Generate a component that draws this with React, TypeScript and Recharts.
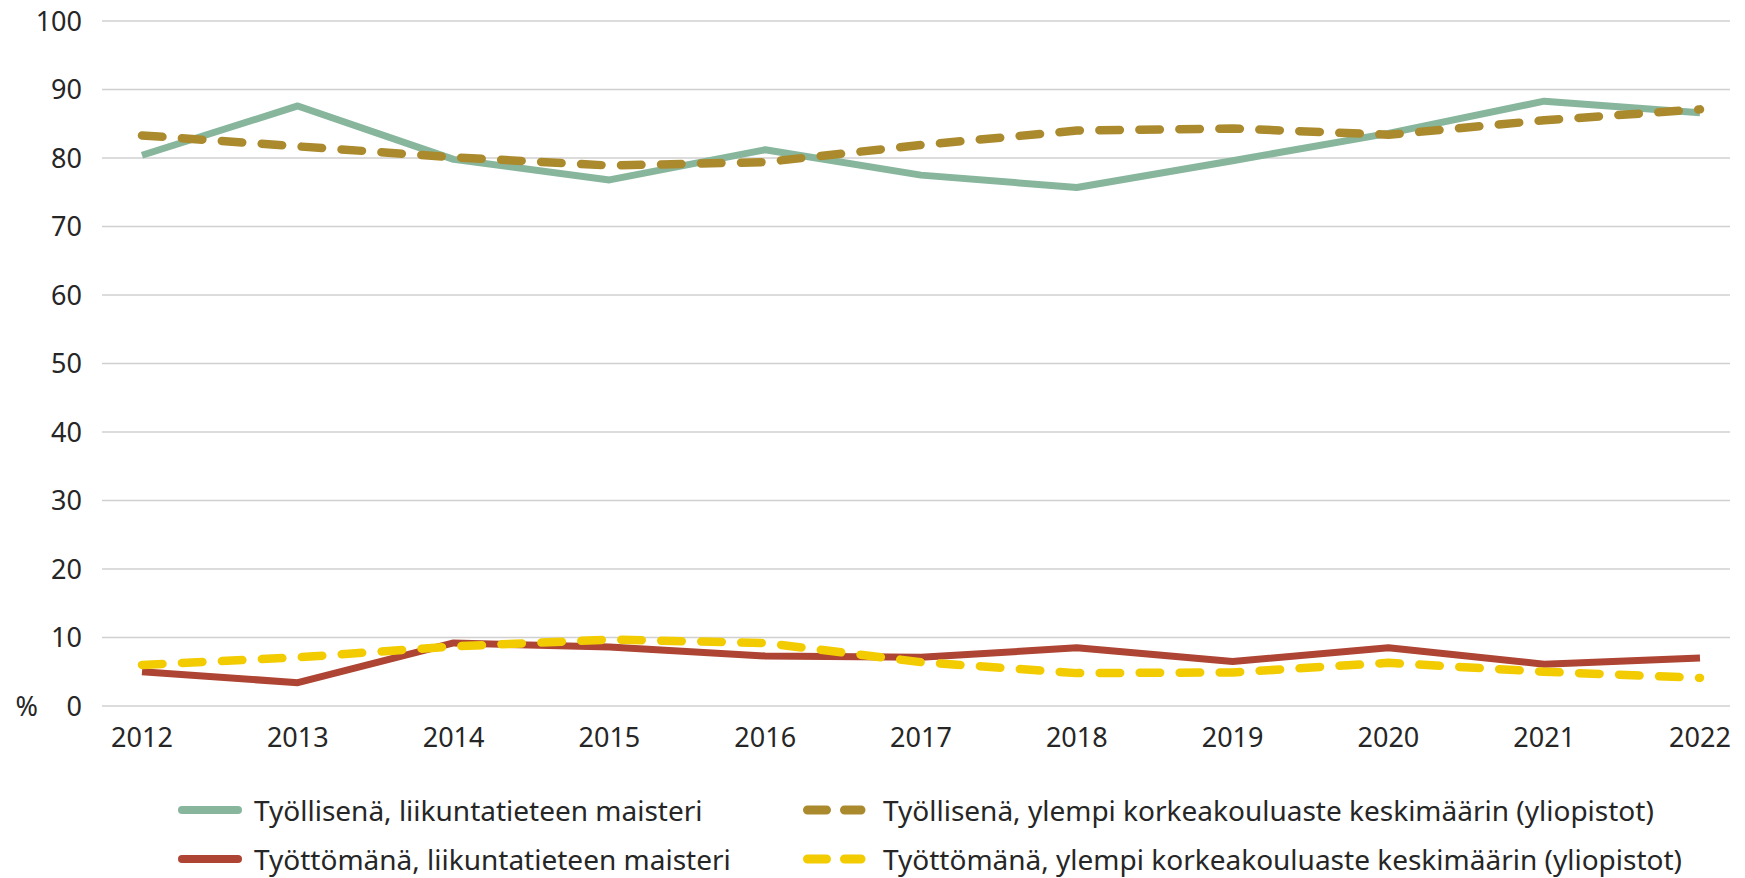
import React from 'react';
import { LineChart, Line, XAxis, YAxis, CartesianGrid } from 'recharts';

// Years on the x axis
const YEARS = ['2012', '2013', '2014', '2015', '2016', '2017', '2018', '2019', '2020', '2021', '2022'];

// Employment / unemployment shares, %
const EMPLOYED_SPORT = [80.4, 87.6, 79.8, 76.8, 81.2, 77.5, 75.7, 79.6, 83.6, 88.3, 86.6];
const EMPLOYED_ALL = [83.3, 81.7, 80.1, 78.9, 79.4, 81.9, 84.0, 84.3, 83.4, 85.5, 87.1];
const UNEMPLOYED_SPORT = [5.0, 3.4, 9.2, 8.6, 7.3, 7.1, 8.5, 6.5, 8.5, 6.1, 7.0];
const UNEMPLOYED_ALL = [6.0, 7.1, 8.7, 9.7, 9.2, 6.4, 4.8, 4.9, 6.3, 5.0, 4.1];

const Y_TICKS = [0, 10, 20, 30, 40, 50, 60, 70, 80, 90, 100];

const SERIES = [
  { key: 'employedSport', name: 'Työllisenä, liikuntatieteen maisteri', color: '#87B69D', dashed: false },
  { key: 'employedAll', name: 'Työllisenä, ylempi korkeakouluaste keskimäärin (yliopistot)', color: '#AB8A2E', dashed: true },
  { key: 'unemployedSport', name: 'Työttömänä, liikuntatieteen maisteri', color: '#AE4433', dashed: false },
  { key: 'unemployedAll', name: 'Työttömänä, ylempi korkeakouluaste keskimäärin (yliopistot)', color: '#F2CC00', dashed: true },
];

const data = YEARS.map((year, i) => ({
  year,
  employedSport: EMPLOYED_SPORT[i],
  employedAll: EMPLOYED_ALL[i],
  unemployedSport: UNEMPLOYED_SPORT[i],
  unemployedAll: UNEMPLOYED_ALL[i],
}));

const FONT = '"Noto Sans", sans-serif';
const TEXT_COLOR = '#262626';

function YTick(props: any) {
  const { x, y, payload } = props;
  return (
    <g>
      <text x={x} y={y} dy="0.355em" textAnchor="end" fontFamily={FONT} fontSize={27} fill={TEXT_COLOR}>
        {payload.value}
      </text>
      {payload.value === 0 && (
        <text x={x - 44} y={y} dy="0.355em" textAnchor="end" fontFamily={FONT} fontSize={27} fill={TEXT_COLOR}>
          %
        </text>
      )}
    </g>
  );
}

function Swatch({ color, dashed }: { color: string; dashed: boolean }) {
  return (
    <svg width={64} height={14} style={{ display: 'block' }}>
      {dashed ? (
        <line x1={4.5} y1={7} x2={58} y2={7} stroke={color} strokeWidth={9} strokeLinecap="round" strokeDasharray="19 18" />
      ) : (
        <line x1={4} y1={7} x2={60} y2={7} stroke={color} strokeWidth={8} strokeLinecap="round" />
      )}
    </svg>
  );
}

function ChartLegend() {
  const colX = [178, 803];
  const rowY = [810, 859];
  return (
    <>
      {SERIES.map((s, i) => (
        <div
          key={s.key}
          style={{
            position: 'absolute',
            left: colX[i % 2],
            top: rowY[Math.floor(i / 2)] - 20,
            height: 40,
            display: 'flex',
            alignItems: 'center',
            whiteSpace: 'nowrap',
            fontFamily: FONT,
            fontSize: 28,
            color: TEXT_COLOR,
          }}
        >
          <Swatch color={s.color} dashed={s.dashed} />
          <span style={{ marginLeft: i % 2 === 0 ? 12 : 16 }}>{s.name}</span>
        </div>
      ))}
    </>
  );
}

export default function App() {
  return (
    <div style={{ position: 'absolute', left: 0, top: 0, width: 1745, height: 878, background: '#fff' }}>
      <LineChart width={1745} height={878} data={data} margin={{ top: 21, right: 15, bottom: 112, left: 0 }}>
        <CartesianGrid vertical={false} stroke="#d0d0d0" strokeWidth={1.6} />
        <XAxis
          dataKey="year"
          height={60}
          padding={{ left: 40, right: 30 }}
          axisLine={false}
          tickLine={false}
          tickSize={0}
          tickMargin={22}
          interval={0}
          tick={{ fontFamily: FONT, fontSize: 27, fill: TEXT_COLOR }}
        />
        <YAxis
          width={102}
          domain={[0, 100]}
          ticks={Y_TICKS}
          interval={0}
          axisLine={false}
          tickLine={false}
          tickSize={0}
          tickMargin={20}
          tick={<YTick />}
        />
        {SERIES.map((s) => (
          <Line
            key={s.key}
            type="linear"
            dataKey={s.key}
            name={s.name}
            stroke={s.color}
            strokeWidth={s.dashed ? 8.5 : 7}
            strokeDasharray={s.dashed ? '20.5 19.5' : undefined}
            strokeLinecap={s.dashed ? 'round' : 'butt'}
            strokeLinejoin="round"
            dot={false}
            activeDot={false}
            isAnimationActive={false}
          />
        ))}
      </LineChart>
      <ChartLegend />
    </div>
  );
}
